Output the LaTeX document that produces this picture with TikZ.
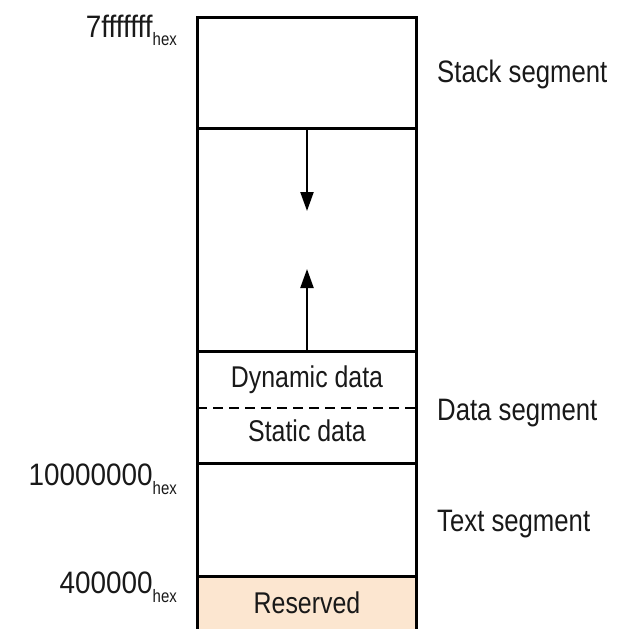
\documentclass[tikz,border=0pt]{standalone}
\usepackage{fontspec}
\setmainfont{Liberation Sans}
\newfontfamily\condfont[FakeStretch=0.83]{Liberation Sans}
\newfontfamily\digfont[FakeStretch=0.9]{Liberation Sans}
\usetikzlibrary{arrows.meta}
\definecolor{txt}{RGB}{25,25,25}
\definecolor{peach}{RGB}{252,230,208}
\tikzset{
  seg/.style={line width=3pt, black},
  outlabel/.style={anchor=base west, inner sep=0pt, text=txt, font=\condfont\fontsize{31}{36}\selectfont},
  inlabel/.style={anchor=base, inner sep=0pt, text=txt, font=\condfont\fontsize{30}{34}\selectfont},
  addr/.style={anchor=base east, inner sep=0pt, text=txt, font=\digfont\fontsize{31}{36}\selectfont},
  growth/.style={line width=2.3pt, -{Triangle[length=19pt,width=13pt]}},
}
\newcommand{\hexsub}{\raisebox{-9pt}{\condfont\fontsize{18}{20}\selectfont hex}}
\begin{document}
\begin{tikzpicture}[x=1pt,y=-1pt]
\useasboundingbox (0,0) rectangle (625,629);
% reserved fill
\fill[peach] (197,576) rectangle (416,629);
% box
\draw[seg] (197,629) -- (197,17) -- (416,17) -- (416,629);
\draw[seg] (197,128) -- (416,128);
\draw[seg] (197,351) -- (416,351);
\draw[seg] (197,463) -- (416,463);
\draw[seg] (197,576) -- (416,576);
\draw[line width=1.8pt, dash pattern=on 10pt off 6pt] (197,408) -- (416,408);
% growth arrows
\coordinate (stacktop) at (307,128);
\coordinate (stackend) at (307,211);
\coordinate (heapbot) at (307,351);
\coordinate (heapend) at (307,269);
\draw[growth] (stacktop) -- (stackend);
\draw[growth] (heapbot) -- (heapend);
% inside labels
\node[inlabel] (dyn) at (307,387) {Dynamic data};
\node[inlabel] (stat) at (307,441) {Static data};
\node[inlabel] (res) at (307,613) {Reserved};
% outside labels
\node[outlabel] (stack) at (437,82) {Stack segment};
\node[outlabel] (data) at (437,420) {Data segment};
\node[outlabel] (text) at (437,531) {Text segment};
% addresses
\node[addr] (a1) at (177,37) {7fffffff\hexsub};
\node[addr] (a2) at (177,485) {10000000\hexsub};
\node[addr] (a3) at (177,593) {400000\hexsub};
\end{tikzpicture}
\end{document}
